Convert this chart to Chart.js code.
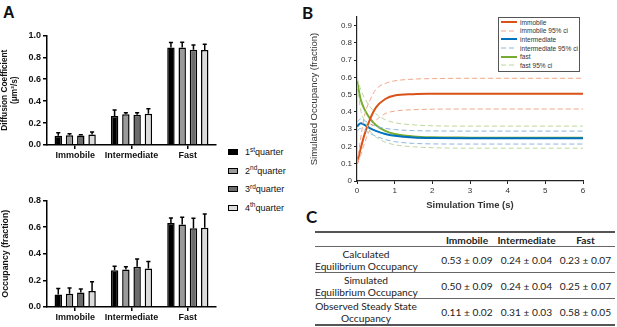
<!DOCTYPE html>
<html>
<head>
<meta charset="utf-8">
<script src="https://cdn.jsdelivr.net/npm/chart.js@4.4.0/dist/chart.umd.min.js"></script>
<style>
  body { margin: 0; width: 617px; height: 327px; position: relative; overflow: hidden; background: #fff; font-family: "Liberation Sans", Arial, sans-serif; }
  canvas { position: absolute; }
  .panel { position: absolute; font-weight: bold; font-size: 16px; color: #111; }
  #legendA { position: absolute; left: 228px; top: 143px; font-size: 9px; color: #111; white-space: nowrap; }
  #legendA div { height: 18.5px; display: flex; align-items: center; }
  #legendA span.sw { display: inline-block; width: 8px; height: 4px; border: 1.5px solid #000; margin-right: 7px; }
  #legendA sup { font-size: 6.5px; position: relative; top: -3px; vertical-align: baseline; }
  #legendB { position: absolute; left: 498px; top: 17px; width: 80px; height: 53px; border: 1px solid #555; background: #fff; font-size: 6.6px; color: #333; white-space: nowrap; }
  #legendB div { height: 8.6px; display: flex; align-items: center; margin-left: 2px; }
  #legendB svg { margin-right: 3px; flex: none; }
  table { position: absolute; left: 315px; top: 231px; width: 300px; table-layout: fixed; border-collapse: collapse; font-family: Lato, "Open Sans", sans-serif; font-size: 10.2px; color: #222; }
  td { text-align: center; padding: 0; line-height: 12px; white-space: nowrap; }
  td.first { padding-right: 20px; }
  tr.head td { height: 13px; font-weight: bold; border-top: 2px solid #555; border-bottom: 1px solid #666; }
  tr.row td { height: 25px; border-bottom: 1px solid #666; }
  tr.last td { border-bottom: 2px solid #555; }
</style>
</head>
<body>
<div class="panel" style="left:3px;top:4px;">A</div>
<div class="panel" style="left:302px;top:2px;font-family:Lato,sans-serif;font-size:17px;">B</div>
<div class="panel" style="left:306px;top:206px;font-family:Lato,sans-serif;font-size:17px;">C</div>

<canvas id="diffChart" width="218" height="137" style="left:0;top:28px;"></canvas>
<canvas id="occChart" width="218" height="134" style="left:0;top:193px;"></canvas>
<canvas id="simChart" width="285" height="205" style="left:305px;top:10px;"></canvas>

<div id="legendA"></div>
<div id="legendB"></div>

<table>
  <colgroup><col style="width:122px"><col style="width:60px"><col style="width:59px"><col style="width:59px"></colgroup>
  <tr class="head"><td class="first"></td><td>Immobile</td><td>Intermediate</td><td>Fast</td></tr>
  <tr class="row"><td class="first">Calculated<br>Equilibrium Occupancy</td><td>0.53 ± 0.09</td><td>0.24 ± 0.04</td><td>0.23 ± 0.07</td></tr>
  <tr class="row"><td class="first">Simulated<br>Equilibrium Occupancy</td><td>0.50 ± 0.09</td><td>0.24 ± 0.04</td><td>0.25 ± 0.07</td></tr>
  <tr class="row last"><td class="first">Observed Steady State<br>Occupancy</td><td>0.11 ± 0.02</td><td>0.31 ± 0.03</td><td>0.58 ± 0.05</td></tr>
</table>

<script>
// categories + quarter labels
const categories = ['Immobile', 'Intermediate', 'Fast'];
const quarterNums = ['1', '2', '3', '4'];
const quarterSups = ['st', 'nd', 'rd', 'th'];
const quarterColors = ['#000000', '#9a9a9a', '#6c6c6c', '#dcdcdc'];

// diffusion coefficient (um^2/s), mean and error per quarter
const diffQ1 = [0.085, 0.265, 0.89];
const diffQ2 = [0.090, 0.280, 0.89];
const diffQ3 = [0.087, 0.277, 0.87];
const diffQ4 = [0.096, 0.286, 0.867];
const diffErrQ1 = [0.027, 0.055, 0.045];
const diffErrQ2 = [0.012, 0.015, 0.048];
const diffErrQ3 = [0.007, 0.018, 0.043];
const diffErrQ4 = [0.022, 0.044, 0.052];

// occupancy (fraction)
const occQ1 = [0.094, 0.276, 0.630];
const occQ2 = [0.099, 0.281, 0.620];
const occQ3 = [0.108, 0.303, 0.591];
const occQ4 = [0.120, 0.288, 0.594];
const occErrQ1 = [0.045, 0.029, 0.038];
const occErrQ2 = [0.043, 0.022, 0.053];
const occErrQ3 = [0.027, 0.057, 0.075];
const occErrQ4 = [0.070, 0.053, 0.103];

// simulation (panel B)
const simTime = [0, 0.1, 0.2, 0.35, 0.5, 0.75, 1, 1.5, 2, 3, 4, 5, 6];
const immobile    = [0.10, 0.19, 0.27, 0.36, 0.425, 0.475, 0.495, 0.503, 0.505, 0.506, 0.505, 0.505, 0.505];
const immobileHi  = [0.10, 0.25, 0.38, 0.47, 0.53, 0.565, 0.58, 0.59, 0.593, 0.595, 0.595, 0.595, 0.595];
const immobileLo  = [0.10, 0.15, 0.22, 0.30, 0.35, 0.39, 0.405, 0.413, 0.416, 0.417, 0.417, 0.417, 0.417];
const intermediate   = [0.315, 0.335, 0.325, 0.305, 0.29, 0.272, 0.262, 0.252, 0.249, 0.248, 0.248, 0.248, 0.248];
const intermediateHi = [0.34, 0.36, 0.35, 0.33, 0.318, 0.305, 0.298, 0.292, 0.29, 0.289, 0.289, 0.289, 0.289];
const intermediateLo = [0.29, 0.305, 0.295, 0.275, 0.26, 0.24, 0.228, 0.218, 0.215, 0.214, 0.214, 0.214, 0.214];
const fast   = [0.58, 0.47, 0.415, 0.36, 0.325, 0.29, 0.272, 0.258, 0.253, 0.251, 0.25, 0.25, 0.25];
const fastHi = [0.60, 0.53, 0.48, 0.43, 0.39, 0.355, 0.338, 0.325, 0.32, 0.318, 0.318, 0.318, 0.318];
const fastLo = [0.56, 0.41, 0.35, 0.29, 0.255, 0.225, 0.21, 0.198, 0.193, 0.19, 0.19, 0.19, 0.19];
const yTicksB = [0, 0.1, 0.2, 0.3, 0.4, 0.5, 0.6, 0.7, 0.8, 0.9];

const armFont = 'Liberation Sans';

// draws upward error bars with a cap, using the dataset's "errors" field
const errorBars = {
  id: 'errorBars',
  afterDatasetsDraw(chart) {
    const ctx = chart.ctx;
    const y = chart.scales.y;
    chart.data.datasets.forEach((ds, i) => {
      const meta = chart.getDatasetMeta(i);
      meta.data.forEach((bar, j) => {
        const top = y.getPixelForValue(ds.data[j] + ds.errors[j]);
        const w = bar.width * 0.55;
        ctx.save();
        ctx.strokeStyle = '#000';
        ctx.lineWidth = 1.5;
        ctx.beginPath();
        ctx.moveTo(bar.x, bar.y);
        ctx.lineTo(bar.x, top);
        ctx.moveTo(bar.x - w / 2, top);
        ctx.lineTo(bar.x + w / 2, top);
        ctx.stroke();
        ctx.restore();
      });
    });
  }
};

function barChart(id, series, errs, yMax, title, titleSize) {
  return new Chart(document.getElementById(id), {
    type: 'bar',
    data: {
      labels: categories,
      datasets: series.map((s, i) => ({
        label: quarterNums[i] + quarterSups[i] + 'quarter',
        data: s,
        errors: errs[i],
        backgroundColor: quarterColors[i],
        borderColor: '#000',
        borderWidth: 1.5,
        categoryPercentage: 0.8,
        barPercentage: 0.66
      }))
    },
    options: {
      responsive: false,
      animation: false,
      devicePixelRatio: 1,
      layout: { padding: { top: 6, right: 2, left: 0, bottom: 0 } },
      plugins: { legend: { display: false }, tooltip: { enabled: false } },
      scales: {
        x: {
          afterFit(s) { s.height = 20; },
          border: { color: '#000', width: 1.5 },
          grid: { offset: false, drawOnChartArea: false, tickLength: 4, color: '#000', lineWidth: 1.5 },
          ticks: { color: '#111', padding: 1, maxRotation: 0, minRotation: 0, autoSkip: false,
                   font: { family: armFont, weight: 'bold', size: 9 } }
        },
        y: {
          min: 0, max: yMax,
          afterFit(s) { s.width = 47; },
          border: { color: '#000', width: 1.5 },
          grid: { drawOnChartArea: false, tickLength: 4, color: '#000', lineWidth: 1.5 },
          ticks: { stepSize: 0.2, color: '#111', padding: 2, font: { family: armFont, weight: 'bold', size: 9 },
                   callback: v => v.toFixed(1) },
          title: { display: true, text: title, color: '#111', padding: { top: 0, bottom: 3 },
                   font: { family: armFont, weight: 'bold', size: titleSize, lineHeight: 1.2 } }
        }
      }
    },
    plugins: [errorBars]
  });
}

barChart('diffChart', [diffQ1, diffQ2, diffQ3, diffQ4], [diffErrQ1, diffErrQ2, diffErrQ3, diffErrQ4],
         1.0, ['Diffusion Coefficient', '(\u03bcm\u00b2/s)'], 8.3);
barChart('occChart', [occQ1, occQ2, occQ3, occQ4], [occErrQ1, occErrQ2, occErrQ3, occErrQ4],
         0.8, 'Occupancy (fraction)', 8.8);

// legend for panel A
const legA = document.getElementById('legendA');
quarterNums.forEach((n, i) => {
  legA.innerHTML += `<div><span class="sw" style="background:${quarterColors[i]}"></span>${n}<sup>${quarterSups[i]}</sup>quarter</div>`;
});

// panel B
const simSeries = [
  { label: 'immobile 95% ci', data: immobileHi, color: '#f0a688', dash: true },
  { label: 'immobile 95% ci', data: immobileLo, color: '#f0a688', dash: true },
  { label: 'intermediate 95% ci', data: intermediateHi, color: '#8ab6de', dash: true },
  { label: 'intermediate 95% ci', data: intermediateLo, color: '#8ab6de', dash: true },
  { label: 'fast 95% ci', data: fastHi, color: '#bcd89c', dash: true },
  { label: 'fast 95% ci', data: fastLo, color: '#bcd89c', dash: true },
  { label: 'immobile', data: immobile, color: '#d95319', dash: false },
  { label: 'intermediate', data: intermediate, color: '#0072bd', dash: false },
  { label: 'fast', data: fast, color: '#77ac30', dash: false }
];

new Chart(document.getElementById('simChart'), {
  type: 'line',
  data: {
    datasets: simSeries.map(s => ({
      label: s.label,
      data: s.data.map((v, i) => ({ x: simTime[i], y: v })),
      borderColor: s.color,
      borderWidth: s.dash ? 1 : 2,
      borderDash: s.dash ? [5, 3] : [],
      pointRadius: 0,
      cubicInterpolationMode: 'monotone',
      fill: false
    }))
  },
  options: {
    responsive: false,
    animation: false,
    devicePixelRatio: 1,
    layout: { padding: { top: 7, right: 7, left: 0, bottom: 0 } },
    plugins: { legend: { display: false }, tooltip: { enabled: false } },
    scales: {
      x: {
        type: 'linear', min: 0, max: 6,
        afterFit(s) { s.height = 34; },
        border: { color: '#222', width: 1.2 },
        grid: { drawOnChartArea: false, tickLength: 3, color: '#222' },
        ticks: { stepSize: 1, color: '#333', padding: 2, maxRotation: 0, font: { family: armFont, size: 8 } },
        title: { display: true, text: 'Simulation Time (s)', color: '#333', padding: { top: 1 },
                 font: { family: armFont, weight: 'bold', size: 9.5 } }
      },
      y: {
        min: 0, max: 0.95,
        afterFit(s) { s.width = 52; },
        afterBuildTicks(s) { s.ticks = yTicksB.map(v => ({ value: v })); },
        border: { color: '#222', width: 1.2 },
        grid: { drawOnChartArea: false, tickLength: 3, color: '#222' },
        ticks: { color: '#333', padding: 2, font: { family: armFont, size: 8 }, callback: v => String(v) },
        title: { display: true, text: 'Simulated Occupancy (fraction)', color: '#333', padding: { bottom: 2 },
                 font: { family: armFont, size: 9.5 } }
      }
    }
  }
});

// legend for panel B
const legB = document.getElementById('legendB');
[['immobile', '#d95319', false], ['immobile 95% ci', '#f0a688', true],
 ['intermediate', '#0072bd', false], ['intermediate 95% ci', '#8ab6de', true],
 ['fast', '#77ac30', false], ['fast 95% ci', '#bcd89c', true]].forEach(([t, c, d]) => {
  legB.innerHTML += `<div><svg width="16" height="4"><line x1="0" y1="2" x2="16" y2="2" stroke="${c}" stroke-width="${d ? 1 : 2}" ${d ? 'stroke-dasharray="5,3"' : ''}/></svg>${t}</div>`;
});
</script>
</body>
</html>
